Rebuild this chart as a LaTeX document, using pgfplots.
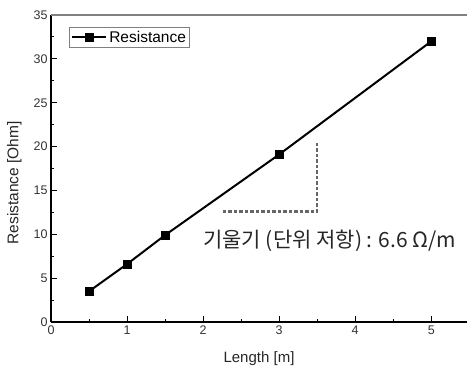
\documentclass[border=0pt]{standalone}
\usepackage{fontspec}
\setmainfont{Liberation Sans}
\newfontfamily\kr{Noto Sans CJK KR}
\usepackage{pgfplots}
\pgfplotsset{compat=1.18}
\usetikzlibrary{calc}
\begin{document}
\begin{tikzpicture}
\begin{axis}[
 name=ax,
 scale only axis, width=416pt, height=307pt,
 xmin=0, xmax=5.47, ymin=0, ymax=35,
 axis x line*=bottom, axis y line*=left,
 x axis line style={-}, y axis line style={-},
 axis line style={black, line width=1.5pt},
 xtick={0,1,2,3,4,5}, minor xtick={0.5,1.5,2.5,3.5,4.5},
 ytick={0,5,10,15,20,25,30,35}, minor ytick={2.5,7.5,12.5,17.5,22.5,27.5,32.5},
 tick align=inside, major tick length=6pt, minor tick length=3pt,
 every tick/.style={black, line width=1pt},
 /pgf/number format/assume math mode=true,
 ticklabel style={font=\fontsize{12.5}{13}\selectfont, text=black!80},
 xlabel={Length [m]}, ylabel={Resistance [Ohm]},
 xlabel style={font=\fontsize{15}{16}\selectfont, text=black!85, at={(axis description cs:0.5,-0.12)}, anchor=center},
 ylabel style={font=\fontsize{15.5}{16}\selectfont, text=black!85, at={(axis description cs:-0.088,0.453)}, anchor=center, rotate=0},
 legend style={at={(axis description cs:0.044,0.961)}, anchor=north west, draw=gray, line width=1pt, font=\fontsize{15.5}{16}\selectfont, inner sep=1.5pt, row sep=0pt},
 legend image code/.code={\draw[mark repeat=2, mark phase=2] plot coordinates {(0pt,0pt) (17pt,0pt) (34pt,0pt)};},
 legend cell align=left,
 clip=false,
]
\addplot[black, line width=2pt, mark=square*, mark size=3.5pt, mark options={solid}] coordinates {
 (0.5,3.5) (1,6.6) (1.5,9.9) (3,19.1) (5,32.0)};
\addlegendentry{Resistance}
\addplot[black!60, line width=2.5pt, dash pattern=on 3.5pt off 2pt, forget plot] coordinates {
 (2.26,12.6) (3.5,12.6) (3.5,20.5)};
\draw[gray, line width=1.5pt] (rel axis cs:0,1) -- (rel axis cs:1,1);
\node[anchor=west, font=\kr\fontsize{21}{23}\selectfont, text=black!85, inner sep=0pt] at (axis cs:2.0,9.3) {기울기 (단위 저항) : 6.6 Ω/m};
\end{axis}
\pgfresetboundingbox
\path[use as bounding box] ($(ax.south west)+(-51pt,-47pt)$) rectangle ($(ax.north east)+(0pt,15pt)$);
\end{tikzpicture}
\end{document}
